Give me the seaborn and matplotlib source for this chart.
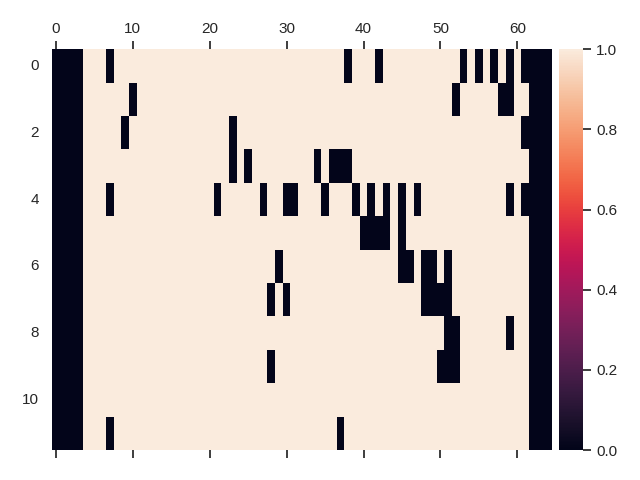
import matplotlib

matplotlib.use("Agg")
import matplotlib.pyplot as plt
import numpy as np
import seaborn as sns

sns.set_theme()
plt.rcParams["font.family"] = ["Liberation Sans", "DejaVu Sans"]

N_ROWS = 12
N_COLS = 65

# columns that are 0 in every row
ALWAYS_ZERO = [0, 1, 2, 3]

# remaining 0-valued columns, one list per row (everything else is 1)
ZERO_COLS = [
    [7, 38, 42, 53, 55, 57, 59, 61, 62, 63, 64],
    [10, 52, 58, 59, 62, 63, 64],
    [9, 23, 61, 62, 63, 64],
    [23, 25, 34, 36, 37, 38, 62, 63, 64],
    [7, 21, 27, 30, 31, 35, 39, 41, 43, 45, 47, 59, 61, 62, 63, 64],
    [40, 41, 42, 43, 45, 62, 63, 64],
    [29, 45, 46, 48, 49, 51, 62, 63, 64],
    [28, 30, 48, 49, 50, 51, 62, 63, 64],
    [51, 52, 59, 62, 63, 64],
    [28, 50, 51, 52, 62, 63, 64],
    [62, 63, 64],
    [7, 37, 62, 63, 64],
]

X_TICKS = [0, 10, 20, 30, 40, 50, 60]
Y_TICKS = [0, 2, 4, 6, 8, 10]

data = np.ones((N_ROWS, N_COLS))
for r, cols in enumerate(ZERO_COLS):
    data[r, ALWAYS_ZERO] = 0
    data[r, cols] = 0

fig = plt.figure(figsize=(6.4, 4.8), dpi=100)
ax = fig.add_axes([0.08125, 0.0625, 0.78125, 0.835])
cax = fig.add_axes([0.8734, 0.0625, 0.0375, 0.835])

sns.heatmap(data, vmin=0, vmax=1, ax=ax, cbar_ax=cax)

ax.set_xticks([t + 0.5 for t in X_TICKS])
ax.set_xticklabels([str(t) for t in X_TICKS], rotation=0)
ax.set_yticks([t + 0.5 for t in Y_TICKS])
ax.set_yticklabels([str(t) for t in Y_TICKS], rotation=0)
ax.tick_params(axis="x", top=True, bottom=True, labeltop=True, labelbottom=False)
ax.tick_params(axis="y", left=False)

fig.savefig("out.png", dpi=100)
plt.close(fig)
